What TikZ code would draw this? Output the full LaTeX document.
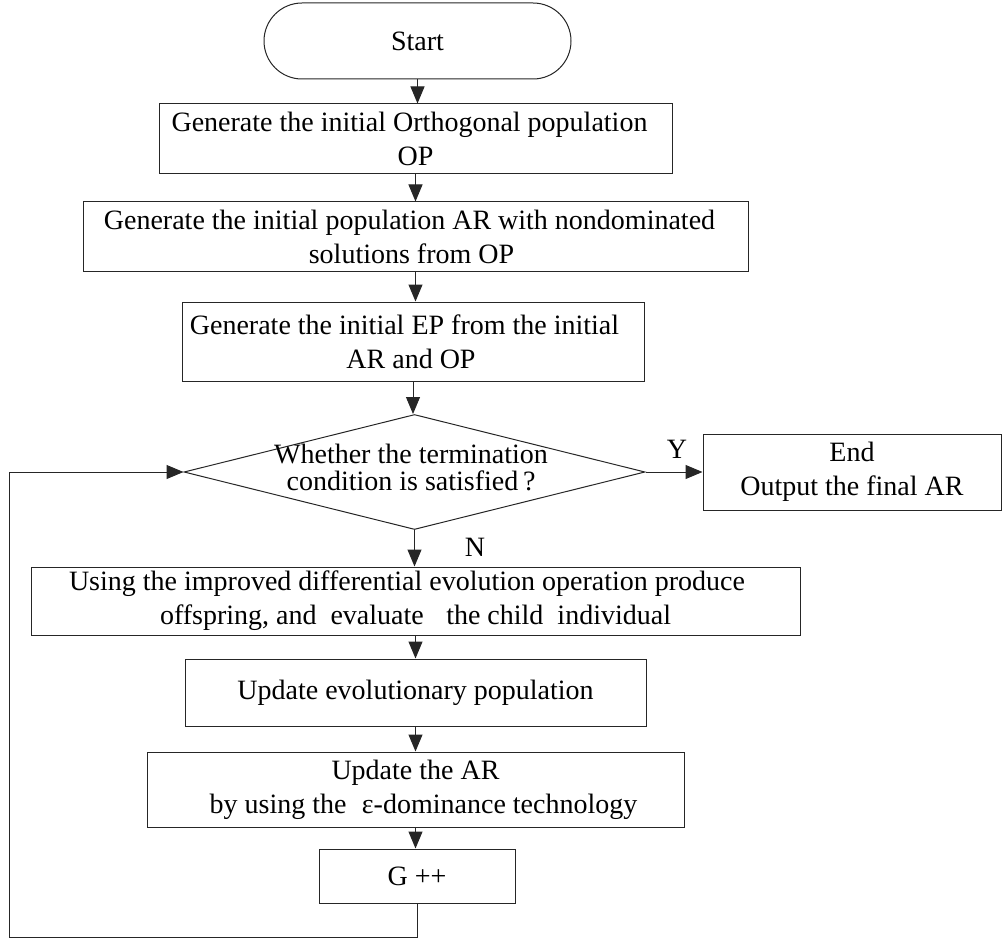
\documentclass[tikz,border=0pt]{standalone}
\usepackage{fontspec}
\setmainfont{Liberation Serif}
\usetikzlibrary{shapes.geometric,arrows.meta}
\begin{document}
\begin{tikzpicture}[x=1pt,y=-1pt,
  every node/.style={font=\fontsize{28}{34}\selectfont},
  procbox/.style={draw=black!85, line width=1pt, rectangle, inner sep=0pt, align=center},
  decision/.style={draw=black!85, line width=1pt, diamond, inner sep=0pt},
  flow/.style={draw=black!85, line width=1pt, -{Triangle[length=17pt,width=14pt]}},
  tag/.style={inner sep=0pt}]
\useasboundingbox (0,0) rectangle (1003,941);

% terminal and process boxes
\node[procbox, rounded corners=38pt, minimum width=307pt, minimum height=76pt] (start) at (417.5,41) {Start};
\node[procbox, minimum width=513pt, minimum height=70pt] (b1) at (415.5,139)
  {Generate the initial Orthogonal population\hspace*{12pt}\\OP};
\node[procbox, minimum width=665pt, minimum height=69pt] (b2) at (415.5,236.5)
  {Generate the initial population AR with nondominated\hspace*{12pt}\\solutions from OP\hspace*{8pt}};
\node[procbox, minimum width=462pt, minimum height=79pt] (b3) at (413,341.5)
  {Generate the initial EP from the initial\hspace*{17pt}\\AR and OP\hspace*{4pt}};

% termination test
\node[decision, minimum width=461pt, minimum height=115pt] (dia) at (414.5,472) {};
\node[tag, align=center, font=\fontsize{28}{27}\selectfont] (dtext) at (411,467)
  {Whether the termination\\condition is satisfied\,?};
\node[procbox, minimum width=298pt, minimum height=76pt] (end) at (852,472)
  {End\\Output the final AR};
\node[tag] (ylab) at (677,449) {Y};
\node[tag] (nlab) at (475,547) {N};

% loop body
\node[procbox, minimum width=769pt, minimum height=68pt] (b4) at (415.5,601)
  {Using the improved differential evolution operation produce\hspace*{17pt}\\
   offspring, and\hspace{0.5em}evaluate\hspace{0.8em}the child\hspace{0.5em}individual};
\node[procbox, minimum width=461pt, minimum height=67pt] (b5) at (415.5,692.5)
  {Update evolutionary population};
\node[procbox, minimum width=537pt, minimum height=75pt] (b6) at (415.5,789.5)
  {Update the AR\\\hspace*{16pt}by using the\hspace{0.55em}ε-dominance technology};
\node[procbox, minimum width=196pt, minimum height=54pt] (g) at (417,876) {G ++};

% connectors
\draw[flow] (start.south) -- (start.south |- b1.north);
\draw[flow] (b1.south) -- (b1.south |- b2.north);
\draw[flow] (b2.south) -- (b2.south |- b3.north);
\draw[flow] (b3.south) -- (b3.south |- dia.north);
\draw[flow] (dia.east) -- (end.west);
\draw[flow] (dia.south) -- (dia.south |- b4.north);
\draw[flow] (b4.south) -- (b4.south |- b5.north);
\draw[flow] (b5.south) -- (b5.south |- b6.north);
\draw[flow] (b6.south) -- (b6.south |- g.north);
\coordinate (loopcorner) at (9,937);
\draw[flow] (g.south) |- (loopcorner) |- (dia.west);
\end{tikzpicture}
\end{document}
